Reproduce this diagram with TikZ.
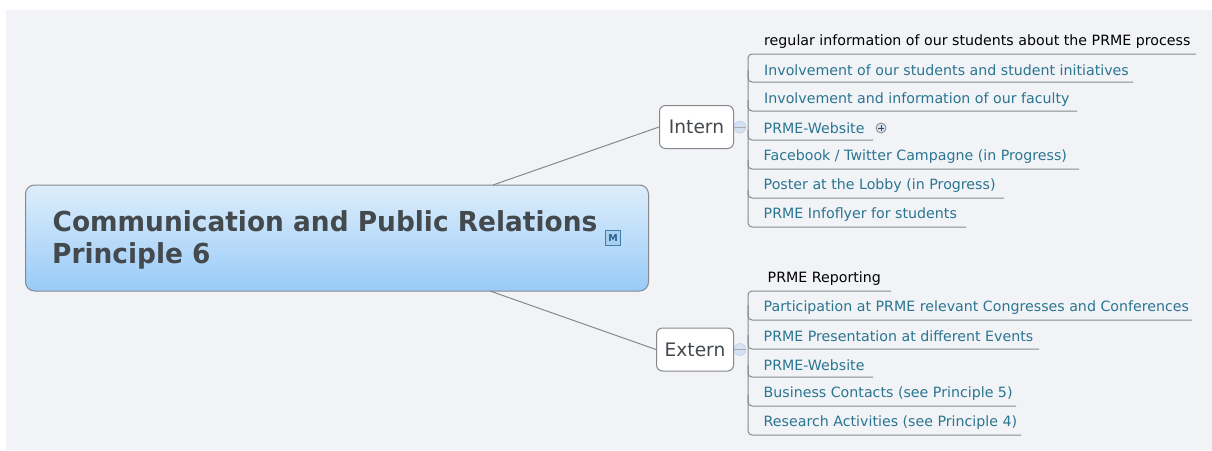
\documentclass[tikz,border=0pt]{standalone}
\usepackage{fontspec}
\setmainfont{DejaVu Sans}
\newfontfamily\titlefont[FakeStretch=0.96]{DejaVu Sans}
\definecolor{bgc}{HTML}{F1F3F7}
\definecolor{tealc}{HTML}{2A7590}
\definecolor{lnc}{HTML}{85888C}
\definecolor{dark}{HTML}{44494D}
\definecolor{topc}{HTML}{DDEDFB}
\definecolor{botc}{HTML}{99CBF8}
\definecolor{togc}{HTML}{D3E1F3}
\definecolor{togl}{HTML}{B9CDE6}
\definecolor{mfill}{HTML}{A9CFEF}
\definecolor{mline}{HTML}{3F7FA8}
\definecolor{mtext}{HTML}{2A5F8F}
\tikzset{
  itemt/.style={anchor=base west,inner sep=0pt,font=\fontsize{14.2}{16}\selectfont,text=tealc},
  itemk/.style={itemt,text=black},
  sub/.style={draw=lnc,line width=1pt,fill=white,rounded corners=6pt,anchor=west,inner sep=0pt,font=\fontsize{18.6}{24}\selectfont,text=dark,minimum height=43pt},
  uline/.style={draw=lnc,line width=1pt,rounded corners=4pt},
  conn/.style={draw=lnc,line width=1pt},
  tog/.style={circle,fill=togc,draw=togl,line width=0.5pt,minimum size=12pt,inner sep=0pt},
  titlet/.style={anchor=base west,inner sep=0pt,font=\titlefont\fontsize{27.5}{32}\bfseries\selectfont,text=dark}
}
\begin{document}
\begin{tikzpicture}[x=1pt,y=-1pt]
\useasboundingbox (0,0) rectangle (1212,450);
\fill[white] (0,0) rectangle (1212,450);
\fill[bgc] (6,10) rectangle (1212,450);
% main
\node[rounded corners=9pt,draw=lnc,line width=1pt,top color=topc,bottom color=botc,minimum width=623pt,minimum height=106pt,inner sep=0pt] (main) at (337,238) {};
\node[titlet] (title) at (52.5,231) {Communication and Public Relations};
\node[titlet] (title2) at (52,263) {Principle 6};
\node[draw=mline,fill=mfill,line width=1pt,minimum size=15pt,inner sep=0pt,font=\fontsize{9.5}{10}\bfseries\selectfont,text=mtext] (mm) at (613,238) {M};
% sub nodes
\node[sub,minimum width=74pt] (intern) at (659,127) {Intern};
\node[sub,minimum width=77pt] (extern) at (656,349.5) {Extern};
\coordinate (m1) at (493,185);
\coordinate (m2) at (490,291);
\draw[conn] (m1) -- (intern.west);
\draw[conn] (m2) -- (extern.west);
% togglers
\node[tog] (ti) at (740,127) {};
\node[tog] (te) at (740,349.5) {};
\draw[conn,line width=.5pt] (intern.east) -- (ti);
\draw[conn,line width=.5pt] (extern.east) -- (te);
\draw[lnc!70,line width=.7pt] (ti.west) -- (ti.east);
\draw[lnc!70,line width=.7pt] (te.west) -- (te.east);
% intern list
\coordinate (a0) at (1196,54);
\coordinate (a1) at (1133,82);
\coordinate (a2) at (1077,111);
\coordinate (a3) at (873,140);
\coordinate (a4) at (1079,169);
\coordinate (a5) at (1004,198);
\coordinate (a6) at (966,227);
\draw[uline] (a0) -- (748,54) -- (748,82) -- (a1);
\draw[uline] (748,70) -- (748,111) -- (a2);
\draw[uline] (748,100) -- (748,140) -- (a3);
\draw[uline] (748,130) -- (748,169) -- (a4);
\draw[uline] (748,160) -- (748,198) -- (a5);
\draw[uline] (748,190) -- (748,227) -- (a6);
\node[itemk] (i0) at (764,45) {regular information of our students about the PRME process};
\node[itemt] (i1) at (764,75) {Involvement of our students and student initiatives};
\node[itemt] (i2) at (764,103) {Involvement and information of our faculty};
\node[itemt] (i3) at (763.5,133) {PRME-Website};
\node[itemt] (i4) at (763.5,160) {Facebook / Twitter Campagne (in Progress)};
\node[itemt] (i5) at (763.5,189) {Poster at the Lobby (in Progress)};
\node[itemt] (i6) at (763.5,218) {PRME Infoflyer for students};
\node[circle,draw=lnc,line width=.8pt,fill=togc,minimum size=10pt,inner sep=0pt] (plus) at (881,128) {};
\draw[dark,line width=.8pt] (878,128) -- (884,128) (881,125) -- (881,131);
% extern list
\coordinate (b0) at (891,291);
\coordinate (b1) at (1192,320);
\coordinate (b2) at (1039,349);
\coordinate (b3) at (873,377);
\coordinate (b4) at (1016,406);
\coordinate (b5) at (1021,435);
\draw[uline] (b0) -- (748,291) -- (748,320) -- (b1);
\draw[uline] (748,305) -- (748,349) -- (b2);
\draw[uline] (748,335) -- (748,377) -- (b3);
\draw[uline] (748,365) -- (748,406) -- (b4);
\draw[uline] (748,395) -- (748,435) -- (b5);
\node[itemk] (e0) at (767.5,282) {PRME Reporting};
\node[itemt] (e1) at (763.5,311) {Participation at PRME relevant Congresses and Conferences};
\node[itemt] (e2) at (763.5,341) {PRME Presentation at different Events};
\node[itemt] (e3) at (763.5,370) {PRME-Website};
\node[itemt] (e4) at (763.5,397) {Business Contacts (see Principle 5)};
\node[itemt] (e5) at (763.5,426) {Research Activities (see Principle 4)};
\end{tikzpicture}
\end{document}
